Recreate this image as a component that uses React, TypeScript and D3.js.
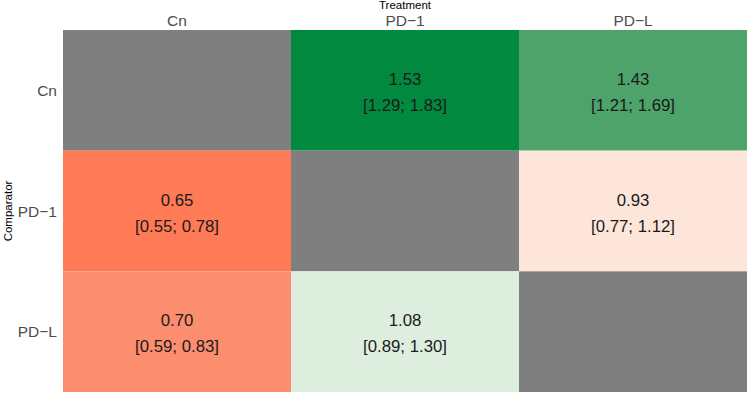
import { useEffect, useRef } from "react";
import * as d3 from "d3";

// treatments (columns) and comparators (rows)
const treatments = ["Cn", "PD\u22121", "PD\u2212L"];
const comparators = ["Cn", "PD\u22121", "PD\u2212L"];

// estimate, lower, upper for each row (comparator) x column (treatment); null = diagonal
const estimates: (number | null)[][] = [
  [null, 1.53, 1.43],
  [0.65, null, 0.93],
  [0.70, 1.08, null],
];
const lower: (number | null)[][] = [
  [null, 1.29, 1.21],
  [0.55, null, 0.77],
  [0.59, 0.89, null],
];
const upper: (number | null)[][] = [
  [null, 1.83, 1.69],
  [0.78, null, 1.12],
  [0.83, 1.30, null],
];

const FONT = "'Liberation Sans', Arial, sans-serif";

export default function App() {
  const ref = useRef<SVGSVGElement | null>(null);

  useEffect(() => {
    if (!ref.current) return;
    const svg = d3.select(ref.current);
    svg.selectAll("*").remove();

    const margin = { top: 30, right: 3, bottom: 6, left: 63 };
    const width = 750, height = 398;
    const w = width - margin.left - margin.right;
    const h = height - margin.top - margin.bottom;

    const x = d3.scaleBand().domain(treatments).range([0, w]);
    const y = d3.scaleBand().domain(comparators).range([0, h]);
    const color = d3.scaleLinear<string>()
      .domain([0.65, 0.70, 0.93, 1.0, 1.08, 1.43, 1.53])
      .range(["#ff7a56", "#fc8d6f", "#fee5da", "#f3f3ee", "#ddeedf", "#4ea36a", "#00893f"])
      .clamp(true);

    const g = svg.append("g").attr("transform", `translate(${margin.left},${margin.top})`);

    const cells = comparators.flatMap((r, i) =>
      treatments.map((c, j) => ({ r, c, v: estimates[i][j], lo: lower[i][j], hi: upper[i][j] }))
    );

    g.selectAll("rect.cell").data(cells).join("rect")
      .attr("class", "cell")
      .attr("x", d => x(d.c)!)
      .attr("y", d => y(d.r)!)
      .attr("width", x.bandwidth())
      .attr("height", y.bandwidth())
      .attr("fill", d => d.v == null ? "#7f7f7f" : color(d.v));

    const labeled = cells.filter(d => d.v != null);
    g.selectAll("text.est").data(labeled).join("text")
      .attr("x", d => x(d.c)! + x.bandwidth() / 2)
      .attr("y", d => y(d.r)! + y.bandwidth() / 2 - 5.5)
      .attr("text-anchor", "middle")
      .attr("font-size", 16.8)
      .attr("fill", "#1a1a1a")
      .text(d => d.v!.toFixed(2));
    g.selectAll("text.ci").data(labeled).join("text")
      .attr("x", d => x(d.c)! + x.bandwidth() / 2)
      .attr("y", d => y(d.r)! + y.bandwidth() / 2 + 20.5)
      .attr("text-anchor", "middle")
      .attr("font-size", 16.8)
      .attr("fill", "#1a1a1a")
      .text(d => `[${d.lo!.toFixed(2)}; ${d.hi!.toFixed(2)}]`);

    // column labels (top)
    g.selectAll("text.col").data(treatments).join("text")
      .attr("x", d => x(d)! + x.bandwidth() / 2)
      .attr("y", -4)
      .attr("text-anchor", "middle")
      .attr("font-size", 15.5)
      .attr("fill", "#4d4d4d")
      .text(d => d);

    // row labels (left)
    g.selectAll("text.row").data(comparators).join("text")
      .attr("x", -6)
      .attr("y", d => y(d)! + y.bandwidth() / 2 + 5.5)
      .attr("text-anchor", "end")
      .attr("font-size", 15.5)
      .attr("fill", "#4d4d4d")
      .text(d => d);

    svg.append("text")
      .attr("x", margin.left + w / 2)
      .attr("y", 9)
      .attr("text-anchor", "middle")
      .attr("font-size", 11.5)
      .attr("fill", "#000")
      .text("Treatment");

    svg.append("text")
      .attr("transform", `translate(12,${margin.top + h / 2}) rotate(-90)`)
      .attr("text-anchor", "middle")
      .attr("font-size", 11.5)
      .attr("fill", "#000")
      .text("Comparator");
  }, []);

  return (
    <svg ref={ref} width={750} height={398}
      style={{ position: "absolute", left: 0, top: 0, fontFamily: FONT }} />
  );
}
